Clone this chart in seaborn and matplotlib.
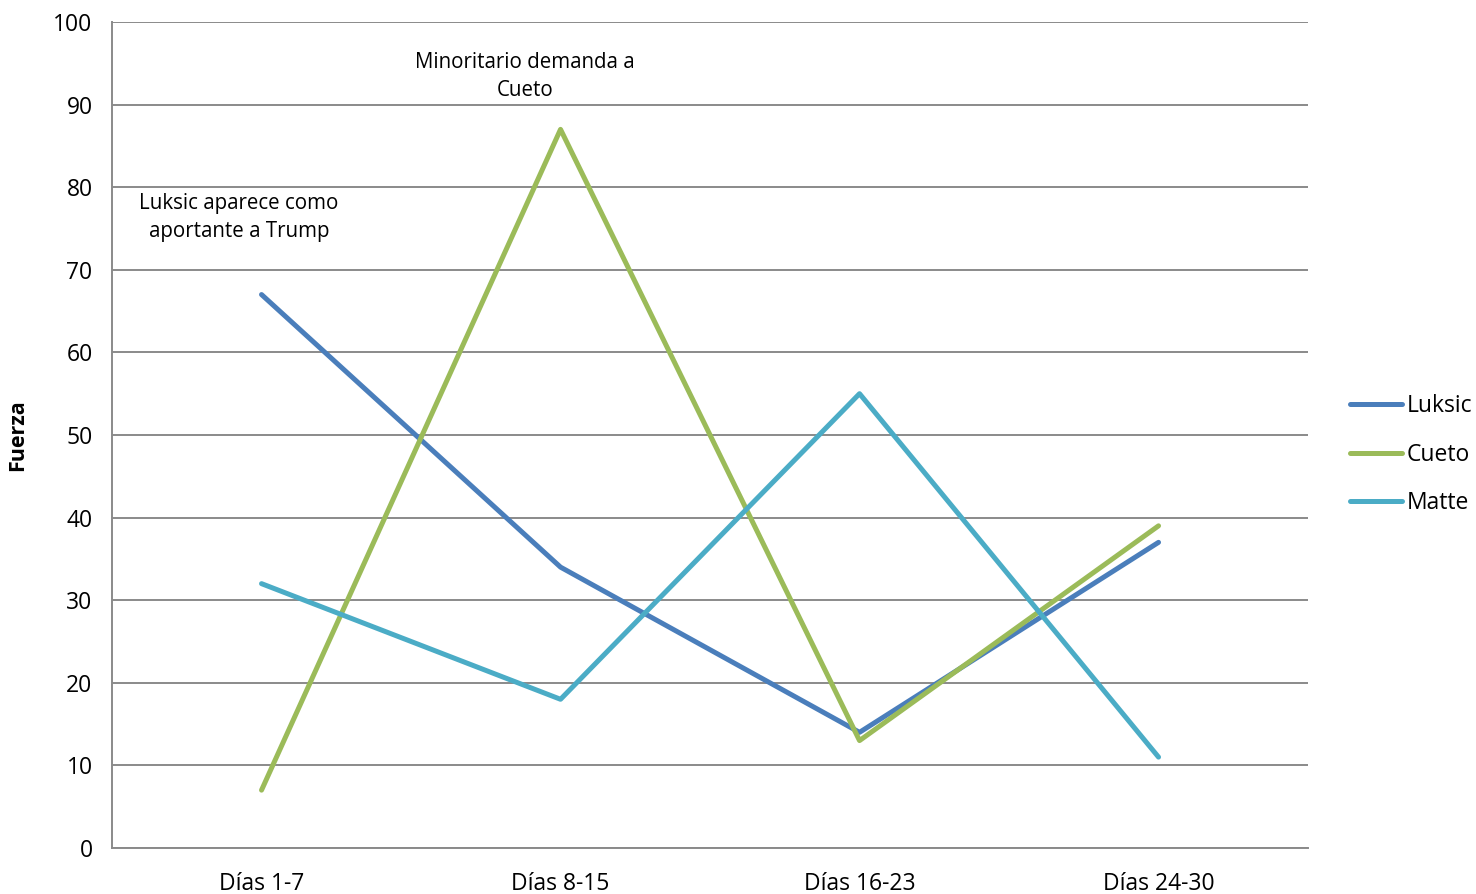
import pandas as pd
import matplotlib.pyplot as plt
import seaborn as sns

periodos = ["Días 1-7", "Días 8-15", "Días 16-23", "Días 24-30"]
luksic = [67, 34, 14, 37]
cueto = [7, 87, 13, 39]
matte = [32, 18, 55, 11]
colores = {"Luksic": "#4A7EBB", "Cueto": "#9BBB59", "Matte": "#4BACC6"}

df = pd.DataFrame({
    "x": list(range(len(periodos))) * 3,
    "Fuerza": luksic + cueto + matte,
    "serie": ["Luksic"] * 4 + ["Cueto"] * 4 + ["Matte"] * 4,
})

sns.set_style("white")
plt.rcParams["font.family"] = ["Open Sans", "DejaVu Sans"]
plt.rcParams["text.color"] = "black"
plt.rcParams["xtick.labelcolor"] = "black"
plt.rcParams["ytick.labelcolor"] = "black"

fig = plt.figure(figsize=(14.76, 8.94), dpi=100)
ax = fig.add_axes([0.0759, 0.0515, 0.8103, 0.9239])

sns.lineplot(data=df, x="x", y="Fuerza", hue="serie", palette=colores,
             linewidth=3.6, ax=ax, legend=False, sort=False,
             solid_capstyle="round", solid_joinstyle="round")

gris = "#8A8A8A"
ax.set_xlim(-0.5, 3.5)
ax.set_ylim(0, 100)
ax.set_yticks(range(0, 101, 10))
ax.yaxis.grid(True, color=gris, linewidth=1.4)
ax.set_axisbelow(True)
ax.set_xticks([-0.5, 0.5, 1.5, 2.5, 3.5])
ax.set_xticklabels([])
ax.set_xticks(range(4), minor=True)
ax.set_xticklabels(periodos, minor=True)
ax.tick_params(axis="x", which="major", length=8, width=1.4, color=gris, direction="out")
ax.tick_params(axis="x", which="minor", length=0, labelsize=16.5, pad=17)
ax.tick_params(axis="y", length=8, width=1.4, color=gris, direction="out", labelsize=16.5, pad=6)
for lado in ["top", "right"]:
    ax.spines[lado].set_visible(False)
for lado in ["left", "bottom"]:
    ax.spines[lado].set_color(gris)
    ax.spines[lado].set_linewidth(1.4)
ax.set_xlabel("")
ax.set_ylabel("Fuerza", fontsize=15.5, fontweight="bold", labelpad=18, color="black")

ax.text(-0.075, 76.3, "Luksic aparece como\naportante a Trump", ha="center", va="center",
        fontsize=14.8, linespacing=1.45)
ax.text(0.881, 93.4, "Minoritario demanda a\nCueto", ha="center", va="center",
        fontsize=14.8, linespacing=1.45)

handles = [plt.Line2D([], [], color=colores[s], linewidth=3.6, solid_capstyle="round")
           for s in colores]
fig.legend(handles, list(colores), loc="center left", bbox_to_anchor=(0.9146, 0.4911),
           frameon=False, fontsize=16.5, handlelength=2.27, handletextpad=0.22,
           labelspacing=1.07, borderaxespad=0, borderpad=0)

plt.savefig("out.png", dpi=100)
plt.close()
